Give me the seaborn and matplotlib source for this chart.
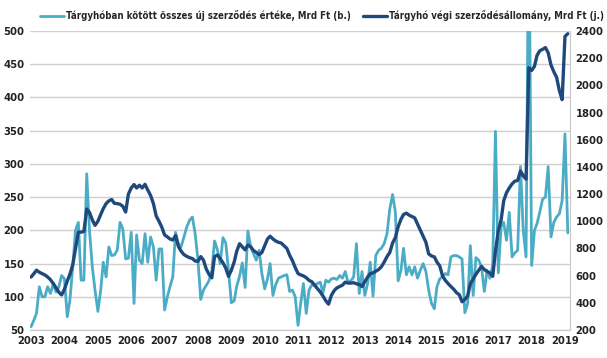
import pandas as pd
import matplotlib
matplotlib.use("Agg")
import matplotlib.pyplot as plt
import matplotlib.dates as mdates
import seaborn as sns

# monthly values, Jan 2003 - Feb 2019
new_contracts = [
    55, 65, 75, 115, 100, 100, 115, 105, 120, 107, 115, 132,      # 2003
    127, 70, 95, 145, 200, 212, 125, 125, 285, 200, 145, 110,     # 2004
    78, 110, 152, 130, 175, 162, 163, 170, 212, 202, 157, 158,    # 2005
    197, 90, 193, 155, 150, 195, 152, 190, 175, 125, 172, 172,    # 2006
    80, 100, 115, 130, 197, 180, 175, 190, 205, 215, 220, 196,    # 2007
    156, 96, 110, 117, 124, 139, 184, 171, 150, 189, 181, 139,    # 2008
    91, 94, 116, 131, 151, 114, 199, 175, 165, 155, 170, 135,     # 2009
    112, 127, 150, 102, 118, 128, 130, 132, 133, 108, 110, 100,   # 2010
    57, 92, 120, 75, 110, 118, 117, 120, 122, 106, 125, 122,      # 2011
    127, 128, 126, 132, 128, 138, 122, 124, 130, 180, 105, 138,   # 2012
    102, 120, 152, 101, 162, 170, 173, 180, 195, 232, 254, 228,   # 2013
    124, 140, 173, 133, 145, 133, 145, 128, 140, 150, 138, 110,   # 2014
    90, 82, 115, 127, 130, 135, 133, 160, 162, 162, 160, 157,     # 2015
    76, 90, 177, 102, 159, 155, 145, 108, 140, 128, 148, 349,     # 2016
    136, 205, 212, 185, 227, 160, 166, 170, 296, 200, 160, 700,   # 2017
    147, 200, 210, 228, 247, 250, 296, 190, 212, 220, 225, 245,   # 2018
    345, 196,                                                     # 2019
]

portfolio = [
    590, 615, 640, 625, 615, 605, 590, 570, 542, 510, 478, 458,
    500, 560, 610, 680, 800, 920, 920, 925, 1090, 1065, 1010, 970,
    1000, 1050, 1093, 1130, 1150, 1160, 1132, 1130, 1125, 1110, 1068, 1200,
    1245, 1270, 1245, 1265, 1245, 1272, 1230, 1190, 1130, 1040, 1000, 958,
    900, 885, 870, 862, 895, 815, 780, 755, 742, 732, 726, 708,
    705, 740, 715, 650, 610, 584, 740, 752, 725, 695, 655, 595,
    640, 700, 780, 835, 812, 790, 825, 812, 785, 770, 755, 770,
    820, 870, 890, 870, 855, 845, 840, 820, 800, 750, 710, 660,
    615, 605, 598, 585, 565, 555, 530, 505, 480, 450, 415, 390,
    455, 490, 510, 520, 530, 552, 545, 545, 548, 540, 535, 520,
    555, 590, 615, 620, 632, 645, 665, 700, 740, 770, 840, 880,
    960, 1015, 1050, 1060, 1045, 1035, 1025, 980, 935, 890, 845, 760,
    745, 738, 700, 672, 600, 565, 542, 520, 500, 475, 460, 408,
    425, 450, 540, 575, 610, 640, 668, 645, 630, 620, 595, 780,
    930, 1010, 1150, 1210, 1245, 1275, 1295, 1300, 1370, 1335, 1310, 2130,
    2110, 2140, 2220, 2255, 2265, 2278, 2240, 2150, 2100, 2060, 1960, 1895,
    2360, 2380,
]

label_new = "Tárgyhóban kötött összes új szerződés értéke, Mrd Ft (b.)"
label_port = "Tárgyhó végi szerződésállomány, Mrd Ft (j.)"

months = pd.date_range("2003-01-01", periods=len(new_contracts), freq="MS")
df = pd.DataFrame({"date": months, "new": new_contracts, "port": portfolio})

sns.set_style("white")
plt.rcParams["font.family"] = ["Liberation Sans Narrow", "DejaVu Sans"]
plt.rcParams["font.stretch"] = "condensed"

light = "#4BACC6"
dark = "#1F497D"
txt = "#222222"

fig = plt.figure(figsize=(6.07, 3.58), dpi=100)
ax = fig.add_axes([30 / 607, 1 - 330 / 358, 540 / 607, 299 / 358])
ax2 = ax.twinx()

sns.lineplot(data=df, x="date", y="new", ax=ax, color=light, lw=2.0,
             label=label_new, legend=False)
sns.lineplot(data=df, x="date", y="port", ax=ax2, color=dark, lw=2.4,
             label=label_port, legend=False)

ax.set_ylim(50, 500)
ax.set_yticks(range(50, 501, 50))
ax2.set_ylim(200, 2400)
ax2.set_yticks(range(200, 2401, 200))
ax.set_xlim(pd.Timestamp("2002-12-20"), pd.Timestamp("2019-02-25"))
ax.xaxis.set_major_locator(mdates.YearLocator())
ax.xaxis.set_major_formatter(mdates.DateFormatter("%Y"))

ax.grid(axis="y", color="#d0d0d0", lw=1)
ax.set_axisbelow(True)
ax.set_xlabel("")
ax.set_ylabel("")
ax2.set_ylabel("")

for a in (ax, ax2):
    for s in a.spines.values():
        s.set_visible(False)
    a.tick_params(length=0, labelsize=8, colors=txt)
    for lbl in a.get_xticklabels() + a.get_yticklabels():
        lbl.set_fontweight("bold")
ax2.spines["right"].set_visible(True)
ax2.spines["right"].set_color("#c8c8c8")
ax2.spines["bottom"].set_visible(True)
ax2.spines["bottom"].set_color("#c8c8c8")
ax.tick_params(axis="y", pad=4)
ax.tick_params(axis="x", pad=4)
ax2.tick_params(axis="y", pad=4)

h1, l1 = ax.get_legend_handles_labels()
h2, l2 = ax2.get_legend_handles_labels()
fig.legend(h1 + h2, l1 + l2, loc="upper center", bbox_to_anchor=(0.53, 0.996),
           ncol=2, frameon=False, handlelength=2.5,
           handletextpad=0.2, columnspacing=1.3,
           prop={"weight": "bold", "size": 6.9, "stretch": "condensed"})

fig.savefig("out.png", dpi=100)
